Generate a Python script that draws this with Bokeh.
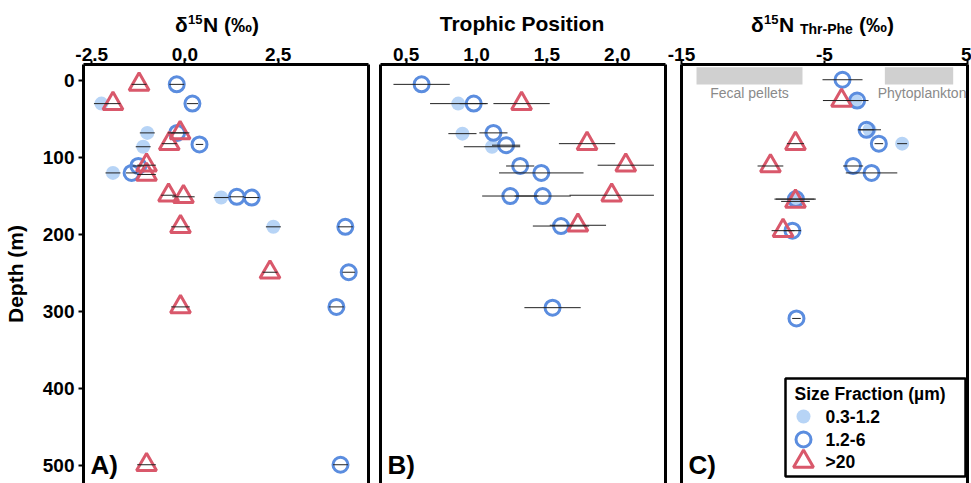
from bokeh.plotting import figure
from bokeh.layouts import row, column
from bokeh.models import Range1d, FixedTicker, Label, LinearAxis, CustomJSTickFormatter, Div
from bokeh.embed import file_html
from bokeh.resources import INLINE

FONT = "Liberation Sans"
BLUE = "#5b8ddf"
RED = "#d9586b"
LIGHT = "#aacdf4"
BAND = "#d0d0d0"

# ---------------- data ----------------
depth_ticks = [0, 100, 200, 300, 400, 500]

# Panel A: d15N (permil)
a_ticks = [-2.5, 0.0, 2.5]
a_tick_labels = ["-2.5", "0.0", "2.5"]
a_small_x = [-2.24, -1.01, -1.12, -1.93, 0.97, 2.37]
a_small_d = [30, 68, 86, 120, 152, 190]
a_small_e = [0.2, 0.2, 0.2, 0.2, 0.2, 0.2]
a_mid_x = [-0.22, 0.20, -0.21, 0.39, -1.25, -1.43, 1.39, 1.79, 4.30, 4.39, 4.06, 4.17]
a_mid_d = [5, 30, 68, 83, 111, 120, 151, 152, 190, 249, 294, 499]
a_mid_e = [0.2, 0.15, 0.25, 0.1, 0.15, 0.15, 0.2, 0.2, 0.2, 0.17, 0.2, 0.2]
a_large_x = [-1.23, -1.93, -0.13, -0.42, -1.03, -1.03, -0.44, -0.04, -0.12, 2.28, -0.12, -1.03]
a_large_d = [5, 30, 68, 82, 110, 122, 149, 151, 190, 249, 294, 499]
a_large_e = [0.2, 0.2, 0.25, 0.2, 0.25, 0.25, 0.2, 0.3, 0.25, 0.2, 0.25, 0.25]

# Panel B: trophic position
b_ticks = [0.5, 1.0, 1.5, 2.0]
b_tick_labels = ["0.5", "1.0", "1.5", "2.0"]
b_small_x = [0.87, 0.90, 1.11]
b_small_d = [30, 69, 86]
b_small_e = [0.2, 0.1, 0.2]
b_mid_x = [0.61, 0.98, 1.12, 1.21, 1.31, 1.46, 1.24, 1.47, 1.60, 1.54]
b_mid_d = [5, 30, 68, 84, 111, 120, 150, 150, 189, 295]
b_mid_e = [0.2, 0.1, 0.1, 0.1, 0.1, 0.3, 0.2, 0.2, 0.2, 0.2]
b_large_x = [1.32, 1.785, 2.06, 1.96, 1.72]
b_large_d = [30, 82, 110, 149, 188]
b_large_e = [0.2, 0.2, 0.2, 0.3, 0.2]

# Panel C: d15N Thr-Phe (permil)
c_ticks = [-15, -5, 5]
c_tick_labels = ["-15", "-5", "5"]
c_small_x = [-2.85, -1.85, 0.43, -7.10]
c_small_d = [26, 64, 82, 154]
c_small_e = [0.5, 0.8, 0.35, 1.4]
c_mid_x = [-3.74, -2.72, -2.06, -1.20, -3.00, -1.71, -7.00, -7.24, -6.96]
c_mid_d = [-1, 26, 64, 82, 111, 120, 154, 195, 309]
c_mid_e = [1.4, 0.8, 0.5, 0.3, 0.7, 1.8, 1.4, 0.6, 0.3]
c_large_x = [-3.81, -7.03, -8.78, -7.03, -7.90]
c_large_d = [26, 82, 111, 157, 195]
c_large_e = [1.3, 0.6, 0.9, 1.0, 0.8]

# reference end-member bands (panel C)
band_names = ["Fecal pellets", "Phytoplankton"]
band_left = [-13.95, -0.78]
band_right = [-6.54, 4.0]
band_top = [-17.3, -17.3]
band_bottom = [5.2, 5.2]

legend_title = "Size Fraction (\u00b5m)"
legend_labels = ["0.3-1.2", "1.2-6", ">20"]

# ---------------- geometry ----------------
STRIP_H = 36          # strip holding the axis titles
FRAME_TOP = 64        # page y of the top of the plot frames
FRAME_H = 419
Y_PPU = 0.77
Y_TOP = -20.8
Y_BOTTOM = Y_TOP + FRAME_H / Y_PPU


def py2d(py):
    return Y_TOP + (py - FRAME_TOP) / Y_PPU


def tick_formatter(vals, texts):
    return CustomJSTickFormatter(
        args=dict(vals=vals, texts=texts),
        code="const i = vals.indexOf(tick); return i < 0 ? '' : texts[i];")


def make_panel(x0, ppu, frame_w, left, right, ticks, tick_labels, show_y):
    x1 = x0 + frame_w / ppu
    top = FRAME_TOP - STRIP_H
    p = figure(width=left + frame_w + right, height=top + FRAME_H,
               frame_width=frame_w, frame_height=FRAME_H,
               min_border_left=left, min_border_right=right,
               min_border_top=top, min_border_bottom=0,
               x_range=Range1d(x0, x1), y_range=Range1d(Y_BOTTOM, Y_TOP),
               x_axis_location="above", output_backend="svg",
               toolbar_location=None, background_fill_color="white",
               border_fill_color="white")
    p.title = None
    p.outline_line_color = None
    p.xgrid.visible = False
    p.ygrid.visible = False
    xa = p.xaxis[0]
    xa.ticker = FixedTicker(ticks=ticks)
    xa.formatter = tick_formatter(ticks, tick_labels)
    xa.minor_tick_line_color = None
    xa.major_tick_out = 4
    xa.major_tick_in = 0
    xa.major_tick_line_width = 2
    xa.axis_line_width = 3
    xa.axis_line_color = "black"
    xa.major_label_standoff = 0
    xa.major_label_text_font = FONT
    xa.major_label_text_font_style = "bold"
    xa.major_label_text_font_size = "19px"
    xa.major_label_text_color = "black"
    ya = p.yaxis[0]
    ya.axis_line_width = 3
    ya.axis_line_color = "black"
    ya.minor_tick_line_color = None
    if show_y:
        ya.ticker = FixedTicker(ticks=depth_ticks)
        ya.major_tick_out = 5
        ya.major_tick_in = 0
        ya.major_tick_line_width = 2
        ya.major_label_standoff = 4
        ya.major_label_text_font = FONT
        ya.major_label_text_font_style = "bold"
        ya.major_label_text_font_size = "19px"
        ya.major_label_text_color = "black"
        ya.axis_label = "Depth (m)"
        ya.axis_label_text_font = FONT
        ya.axis_label_text_font_style = "bold"
        ya.axis_label_text_font_size = "21px"
        ya.axis_label_text_color = "black"
        ya.axis_label_standoff = 13
    else:
        ya.ticker = FixedTicker(ticks=[])
        ya.major_tick_out = 0
        ya.major_label_standoff = 0
        ya.major_label_text_font_size = "0px"
    ra = LinearAxis(ticker=FixedTicker(ticks=[]), axis_line_width=3, axis_line_color="black",
                    major_tick_out=0, major_tick_in=0, minor_tick_line_color=None,
                    major_label_standoff=0, major_label_text_font_size="0px")
    p.add_layout(ra, "right")
    return p


def add_series(p, sx, sd, se, mx, md, me, lx, ld, le):
    p.scatter(sx, sd, marker="circle", size=14, fill_color=LIGHT, fill_alpha=0.85,
              line_color=None)
    p.scatter(mx, md, marker="circle", size=15, fill_color=None, line_color=BLUE,
              line_width=3)
    p.scatter(lx, ld, marker="triangle", size=20, fill_color=None, line_color=RED,
              line_width=3)
    for xs, ds, es in ((sx, sd, se), (mx, md, me), (lx, ld, le)):
        p.segment(x0=[x - e for x, e in zip(xs, es)], y0=ds,
                  x1=[x + e for x, e in zip(xs, es)], y1=ds,
                  line_color="#222222", line_width=1)


def panel_tag(p, x0, ppu, text):
    p.add_layout(Label(x=x0 + 7 / ppu, y=py2d(464), text=text, text_font=FONT,
                       text_font_style="bold", text_font_size="26px",
                       text_baseline="middle", text_align="left", text_color="black"))


# ---------------- axis titles (HTML strip above the panels) ----------------
def span(left, top, size, html, extra=""):
    return ('<span style="position:absolute;left:%spx;top:%spx;font-size:%spx;'
            'line-height:%spx;white-space:nowrap;%s">%s</span>'
            % (left, top, size, size, extra, html))


title_html = (
    '<div style="position:relative;width:971px;height:%dpx;overflow:hidden;'
    'font-family:\'%s\',Arial,sans-serif;font-weight:bold;color:black;">' % (STRIP_H, FONT)
    + span(175, 13.5, 21, "\u03b4") + span(188, 13, 13, "15")
    + span(203, 13.5, 21, "N (\u2030)")
    + span(422, 13.2, 21, "Trophic Position", "width:200px;text-align:center;")
    + span(751, 13.5, 21, "\u03b4") + span(764, 13, 13, "15")
    + span(779, 13.5, 21, "N") + span(800, 21.5, 14, "Thr-Phe")
    + span(859, 13.5, 21, "(\u2030)")
    + '</div>'
)
strip = Div(text=title_html, width=971, height=STRIP_H, margin=(0, 0, 0, 0))

# ---------------- panel A ----------------
A_X0, A_PPU = -2.72, 37.3
pa = make_panel(A_X0, A_PPU, 285, 83, 6, a_ticks, a_tick_labels, True)
add_series(pa, a_small_x, a_small_d, a_small_e, a_mid_x, a_mid_d, a_mid_e,
           a_large_x, a_large_d, a_large_e)
panel_tag(pa, A_X0, A_PPU, "A)")

# ---------------- panel B ----------------
B_X0, B_PPU = 0.318, 140.8
pb = make_panel(B_X0, B_PPU, 285, 6, 2, b_ticks, b_tick_labels, False)
add_series(pb, b_small_x, b_small_d, b_small_e, b_mid_x, b_mid_d, b_mid_e,
           b_large_x, b_large_d, b_large_e)
panel_tag(pb, B_X0, B_PPU, "B)")

# ---------------- panel C ----------------
C_X0, C_PPU = -15.0, 14.3
pc = make_panel(C_X0, C_PPU, 286, 14, 4, c_ticks, c_tick_labels, False)
pc.quad(left=band_left, right=band_right, top=band_top, bottom=band_bottom,
        fill_color=BAND, line_color=None)
pc.add_layout(Label(x=(band_left[0] + band_right[0]) / 2, y=py2d(92), text=band_names[0],
                    text_font=FONT, text_font_size="14px", text_color="#8a8a8a",
                    text_align="center", text_baseline="middle"))
pc.add_layout(Label(x=band_left[1] - 0.5, y=py2d(92), text=band_names[1],
                    text_font=FONT, text_font_size="14px", text_color="#8a8a8a",
                    text_align="left", text_baseline="middle"))
add_series(pc, c_small_x, c_small_d, c_small_e, c_mid_x, c_mid_d, c_mid_e,
           c_large_x, c_large_d, c_large_e)
panel_tag(pc, C_X0, C_PPU, "C)")


# legend (drawn inside panel C)
def cx(px):
    return C_X0 + (px - 681) / C_PPU


pc.quad(left=[cx(785)], right=[cx(965)], top=[py2d(378)], bottom=[py2d(476)],
        fill_color="white", line_color="black", line_width=2.5)
pc.add_layout(Label(x=cx(794), y=py2d(393), text=legend_title, text_font=FONT,
                    text_font_style="bold", text_font_size="17.5px", text_baseline="middle",
                    text_color="black"))
leg_y = [py2d(416), py2d(439), py2d(461)]
pc.scatter([cx(803)], [leg_y[0]], marker="circle", size=14, fill_color=LIGHT,
           fill_alpha=0.85, line_color=None)
pc.scatter([cx(803)], [leg_y[1]], marker="circle", size=15, fill_color=None,
           line_color=BLUE, line_width=3)
pc.scatter([cx(803)], [leg_y[2]], marker="triangle", size=20, fill_color=None,
           line_color=RED, line_width=3)
for lab, yy in zip(legend_labels, leg_y):
    pc.add_layout(Label(x=cx(825), y=yy, text=lab, text_font=FONT, text_font_style="bold",
                        text_font_size="17.5px", text_baseline="middle", text_color="black"))

layout = column(strip, row(pa, pb, pc))
open("out.html", "w").write(file_html(layout, INLINE))
